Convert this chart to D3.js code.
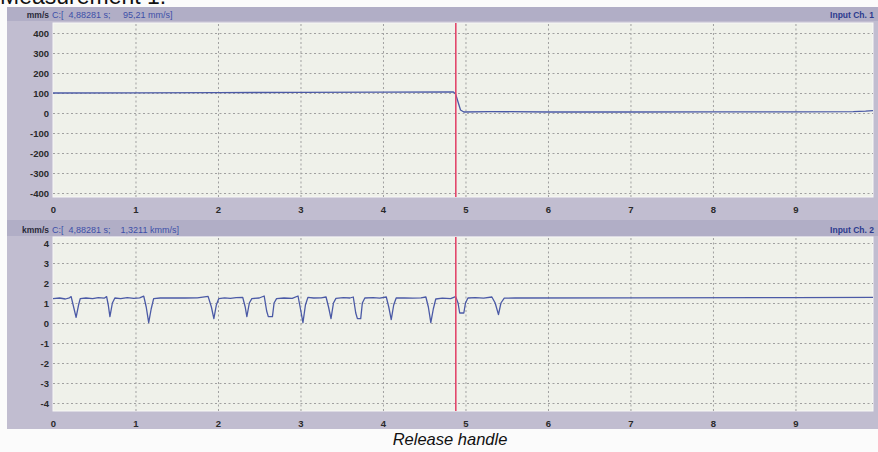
<!DOCTYPE html>
<html>
<head>
<meta charset="utf-8">
<script src="https://cdn.jsdelivr.net/npm/d3@7"></script>
<style>
  body { margin: 0; background: #fbfbfb; }
  svg { display: block; font-family: "Liberation Sans", Arial, sans-serif; }
  .hdr { white-space: pre; }
</style>
</head>
<body>
<div id="chart"></div>
<script>
////////////////////////////////////////////////////////////
//////////////////////// Data //////////////////////////////
////////////////////////////////////////////////////////////
var xTicks = [0, 1, 2, 3, 4, 5, 6, 7, 8, 9];
var yTicksTop = [400, 300, 200, 100, 0, -100, -200, -300, -400];
var yTicksBottom = [4, 3, 2, 1, 0, -1, -2, -3, -4];
var cursorTime = 4.88281;

// channel 1: velocity in mm/s  [time s, value]
var ch1 = [
  [0.00, 100], [1.00, 101], [2.00, 102], [3.00, 103], [4.00, 104.5], [4.85, 106],
  [4.88, 95], [4.91, 55], [4.94, 15], [4.98, 5], [5.30, 7], [6.00, 5],
  [7.00, 5], [8.00, 5.5], [9.00, 6], [9.70, 7], [9.85, 9], [9.94, 12]
];

// channel 2: velocity in kmm/s  [time s, value]
var ch2 = [
  [0.00, 1.22], [0.08, 1.25], [0.15, 1.20], [0.20, 1.26], [0.22, 1.32], [0.25, 0.80], [0.28, 0.28], [0.31, 0.90], [0.33, 1.22],
  [0.40, 1.25], [0.48, 1.22], [0.55, 1.27], [0.62, 1.24], [0.65, 1.32], [0.67, 0.90], [0.69, 0.32], [0.72, 1.00], [0.75, 1.25],
  [0.82, 1.22], [0.90, 1.27], [0.98, 1.23], [1.05, 1.26], [1.10, 1.34], [1.13, 0.80], [1.16, 0.02], [1.19, 0.70], [1.22, 1.22],
  [1.30, 1.25], [1.45, 1.25], [1.60, 1.25], [1.75, 1.26], [1.88, 1.33], [1.92, 0.80], [1.95, 0.22], [1.98, 0.90], [2.01, 1.22],
  [2.08, 1.26], [2.15, 1.23], [2.22, 1.27], [2.30, 1.28], [2.33, 0.80], [2.35, 0.32], [2.38, 1.00], [2.41, 1.22],
  [2.50, 1.25], [2.56, 1.35], [2.59, 0.60], [2.61, 0.32], [2.66, 0.32], [2.68, 1.00], [2.71, 1.22],
  [2.80, 1.25], [2.90, 1.23], [2.97, 1.35], [3.00, 0.70], [3.03, 0.02], [3.06, 0.90], [3.09, 1.28],
  [3.16, 1.25], [3.25, 1.26], [3.31, 1.30], [3.34, 0.80], [3.37, 0.22], [3.40, 1.00], [3.43, 1.23],
  [3.52, 1.27], [3.60, 1.25], [3.64, 1.30], [3.67, 0.50], [3.69, 0.22], [3.73, 0.22], [3.75, 1.00], [3.78, 1.25],
  [3.88, 1.27], [3.96, 1.24], [4.04, 1.30], [4.07, 0.80], [4.10, 0.17], [4.13, 0.90], [4.16, 1.25],
  [4.26, 1.26], [4.36, 1.24], [4.46, 1.26], [4.52, 1.30], [4.55, 0.80], [4.58, 0.02], [4.61, 0.70], [4.64, 1.20],
  [4.72, 1.24], [4.82, 1.22], [4.88, 1.32], [4.91, 1.00], [4.93, 0.50], [4.98, 0.50], [5.00, 1.00], [5.03, 1.25],
  [5.12, 1.27], [5.22, 1.24], [5.32, 1.30], [5.36, 1.00], [5.40, 0.42], [5.43, 1.00], [5.47, 1.24],
  [5.60, 1.25], [7.00, 1.26], [9.00, 1.27], [9.94, 1.28]
];

////////////////////////////////////////////////////////////
//////////////////////// Setup /////////////////////////////
////////////////////////////////////////////////////////////
var W = 878, H = 452;
var frameLeft = 7, plotLeft = 53, plotRight = 873;

var svg = d3.select("#chart").append("svg")
  .attr("width", W).attr("height", H);

svg.append("text")
  .attr("x", 0).attr("y", 4)
  .attr("font-size", 23).attr("fill", "#111")
  .text("Measurement 1:");

var x = d3.scaleLinear().domain([0, 9.94]).range([plotLeft, plotRight]);

var panels = [
  { top: 7, hdrBottom: 21, plotTop: 23, plotBottom: 197, frameBottom: 220,
    domain: [-420, 450], ticks: yTicksTop, data: ch1,
    unit: "mm/s", cursor: "C:[  4,88281 s;     95,21 mm/s]", chan: "Input Ch. 1" },
  { top: 220, hdrBottom: 236, plotTop: 237, plotBottom: 411, frameBottom: 429,
    domain: [-4.4, 4.3], ticks: yTicksBottom, data: ch2,
    unit: "kmm/s", cursor: "C:[  4,88281 s;    1,3211 kmm/s]", chan: "Input Ch. 2" }
];

panels.forEach(function(p) {
  var y = d3.scaleLinear().domain(p.domain).range([p.plotBottom, p.plotTop]);
  var g = svg.append("g");

  // frame
  g.append("rect")
    .attr("x", frameLeft).attr("y", p.top)
    .attr("width", W - frameLeft).attr("height", p.frameBottom - p.top)
    .attr("fill", "#c1bdd0");
  g.append("rect")
    .attr("x", frameLeft).attr("y", p.top)
    .attr("width", W - frameLeft).attr("height", p.hdrBottom - p.top)
    .attr("fill", "#b1aec6");

  // plot area
  g.append("rect")
    .attr("x", plotLeft).attr("y", p.plotTop)
    .attr("width", plotRight - plotLeft).attr("height", p.plotBottom - p.plotTop)
    .attr("fill", "#eff1ea").attr("stroke", "#f8f8f6").attr("stroke-width", 1);

  // horizontal grid + y labels
  var yAxis = g.append("g")
    .attr("transform", "translate(" + plotLeft + ",0)")
    .call(d3.axisLeft(y).tickValues(p.ticks).tickFormat(String)
      .tickSize(-(plotRight - plotLeft)).tickPadding(4));
  yAxis.select(".domain").remove();
  yAxis.selectAll("line")
    .attr("stroke", "#a0a0a0").attr("stroke-dasharray", "2,2.5");
  yAxis.selectAll("text")
    .attr("font-size", 9.5).attr("font-weight", "bold").attr("fill", "#2a2a2a");

  // vertical grid + x labels
  var xAxis = g.append("g")
    .attr("transform", "translate(0," + p.plotBottom + ")")
    .call(d3.axisBottom(x).tickValues(xTicks).tickFormat(String)
      .tickSize(-(p.plotBottom - p.plotTop)).tickPadding(9));
  xAxis.select(".domain").remove();
  xAxis.selectAll("line")
    .attr("stroke", "#a0a0a0").attr("stroke-dasharray", "2,2.5")
    .attr("opacity", function(d) { return d === 0 ? 0 : 1; });
  xAxis.selectAll("text")
    .attr("font-size", 9.5).attr("font-weight", "bold").attr("fill", "#2a2a2a");

  // header texts
  var hy = p.hdrBottom - 3.5;
  g.append("text")
    .attr("x", plotLeft - 4).attr("y", hy)
    .attr("text-anchor", "end")
    .attr("font-size", 8.5).attr("font-weight", "bold").attr("fill", "#2a2a3a")
    .text(p.unit);
  g.append("text").attr("class", "hdr")
    .attr("x", plotLeft - 1).attr("y", hy)
    .attr("font-size", 9).attr("fill", "#3d4ea8")
    .text(p.cursor);
  g.append("text")
    .attr("x", plotRight + 1).attr("y", hy)
    .attr("text-anchor", "end")
    .attr("font-size", 8.5).attr("font-weight", "bold").attr("fill", "#2c3a8e")
    .text(p.chan);

  // signal
  var line = d3.line()
    .x(function(d) { return x(d[0]); })
    .y(function(d) { return y(d[1]); });
  g.append("path")
    .datum(p.data)
    .attr("d", line)
    .attr("fill", "none")
    .attr("stroke", "#4b5aa6")
    .attr("stroke-width", 1.3)
    .attr("stroke-linejoin", "round");

  // cursor
  g.append("line")
    .attr("x1", x(cursorTime)).attr("x2", x(cursorTime))
    .attr("y1", p.plotTop).attr("y2", p.plotBottom)
    .attr("stroke", "#e2486c").attr("stroke-width", 1.6);
});

svg.append("text")
  .attr("x", 450).attr("y", 445)
  .attr("text-anchor", "middle")
  .attr("font-size", 16.5).attr("font-style", "italic").attr("fill", "#111")
  .text("Release handle");
</script>
</body>
</html>
